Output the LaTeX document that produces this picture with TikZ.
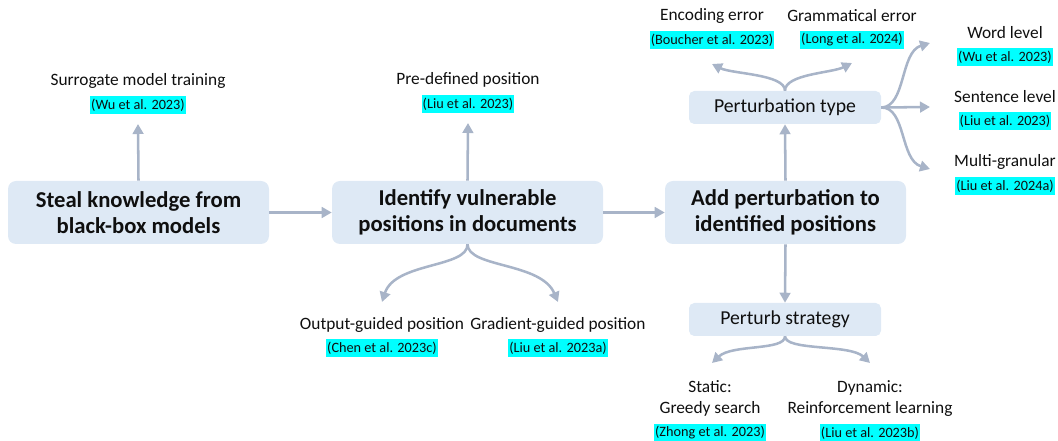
\documentclass[tikz,border=0pt]{standalone}
\usepackage{fontspec}
\setmainfont{Carlito}
\usetikzlibrary{arrows.meta}
\definecolor{boxblue}{RGB}{222,233,245}
\definecolor{arr}{RGB}{168,180,200}
\definecolor{hl}{RGB}{0,255,255}
\definecolor{txt}{RGB}{15,15,15}
\begin{document}
\begin{tikzpicture}[x=0.75pt,y=-0.75pt,
 bigbox/.style={fill=boxblue, rounded corners=6pt, align=center, font=\bfseries\fontsize{17}{19.5}\selectfont, text=txt, inner sep=0pt, minimum height=47.25pt},
 smallbox/.style={fill=boxblue, rounded corners=4pt, font=\fontsize{14.8}{16}\selectfont, minimum width=144pt, minimum height=24.75pt, inner sep=0pt, text=txt},
 lab/.style={font=\fontsize{13}{15.75}\selectfont, text=txt, inner sep=0pt, align=center},
 cite/.style={fill=hl, font=\fontsize{10.7}{12}\selectfont, text=txt, inner xsep=0.8pt, inner ysep=2pt},
 conn/.style={draw=arr, line width=1.9pt, -{Triangle[length=7.5pt,width=8pt]}},
]
\useasboundingbox (0,0) rectangle (1058,441);

% main boxes
\node[bigbox, minimum width=195.75pt] (b1) at (138.5,212.5) {Steal knowledge from\\black-box models};
\node[bigbox, minimum width=203.25pt] (b2) at (467.5,212.5) {Identify vulnerable\\positions in documents};
\node[bigbox, minimum width=180.75pt] (b3) at (785.5,212.5) {Add perturbation to\\identified positions};
\node[smallbox] (pt) at (785,107.5) {Perturbation type};
\node[smallbox] (ps) at (785,319.5) {Perturb strategy};

% labels
\node[lab] (l1) at (138,81) {Surrogate model training};
\node[cite] (c1) at (138,105) {(Wu et al. 2023)};
\node[lab] (l2) at (468,80) {Pre-defined position};
\node[cite] (c2) at (468,104) {(Liu et al. 2023)};
\node[lab] (l3) at (382,325) {Output-guided position};
\node[cite] (c3) at (382,348) {(Chen et al. 2023c)};
\node[lab] (l4) at (558,325) {Gradient-guided position};
\node[cite] (c4) at (558,348) {(Liu et al. 2023a)};
\node[lab] (l5) at (712,16) {Encoding error};
\node[cite] (c5) at (712,40) {(Boucher et al. 2023)};
\node[lab] (l6) at (852,16) {Grammatical error};
\node[cite] (c6) at (852,40) {(Long et al. 2024)};
\node[lab] (l7) at (1005,33) {Word level};
\node[cite] (c7) at (1005,57) {(Wu et al. 2023)};
\node[lab] (l8) at (1005,97) {Sentence level};
\node[cite] (c8) at (1005,121) {(Liu et al. 2023)};
\node[lab] (l9) at (1005,162) {Multi-granular};
\node[cite] (c9) at (1005,186) {(Liu et al. 2024a)};
\node[lab] (l10) at (710,398.5) {Static:\\Greedy search};
\node[cite] (c10) at (710,433) {(Zhong et al. 2023)};
\node[lab] (l11) at (870,398.5) {Dynamic:\\Reinforcement learning};
\node[cite] (c11) at (870,433) {(Liu et al. 2023b)};

% arrow end coordinates
\coordinate (t1) at (138,124);
\coordinate (t2) at (468,123);
\coordinate (t3) at (382,302);
\coordinate (t4) at (558,302);
\coordinate (t5) at (712,64);
\coordinate (t6) at (852,63);
\coordinate (t7) at (930,43);
\coordinate (t8) at (930,107);
\coordinate (t9) at (930,169);
\coordinate (t10) at (712,363);
\coordinate (t11) at (870,363);

% connectors
\draw[conn] (b1.east) -- (b2.west);
\draw[conn] (b2.east) -- (b3.west);
\draw[conn] (b1.north) -- (t1);
\draw[conn] (b2.north) -- (t2);
\draw[conn] (b3.north) -- (pt.south);
\draw[conn] (b3.south) -- (ps.north);
\draw[conn] (b2.south) .. controls (468,268) and (395,262) .. (t3);
\draw[conn] (b2.south) .. controls (468,268) and (541,262) .. (t4);
\draw[conn] (pt.north) .. controls (785,74) and (732,74) .. (t5);
\draw[conn] (pt.north) .. controls (785,74) and (832,73) .. (t6);
\draw[conn] (pt.east) .. controls (906,107) and (900,52) .. (t7);
\draw[conn] (pt.east) -- (t8);
\draw[conn] (pt.east) .. controls (906,107) and (900,160) .. (t9);
\draw[conn] (ps.south) .. controls (785,351) and (732,344) .. (t10);
\draw[conn] (ps.south) .. controls (785,351) and (850,344) .. (t11);
\end{tikzpicture}
\end{document}
